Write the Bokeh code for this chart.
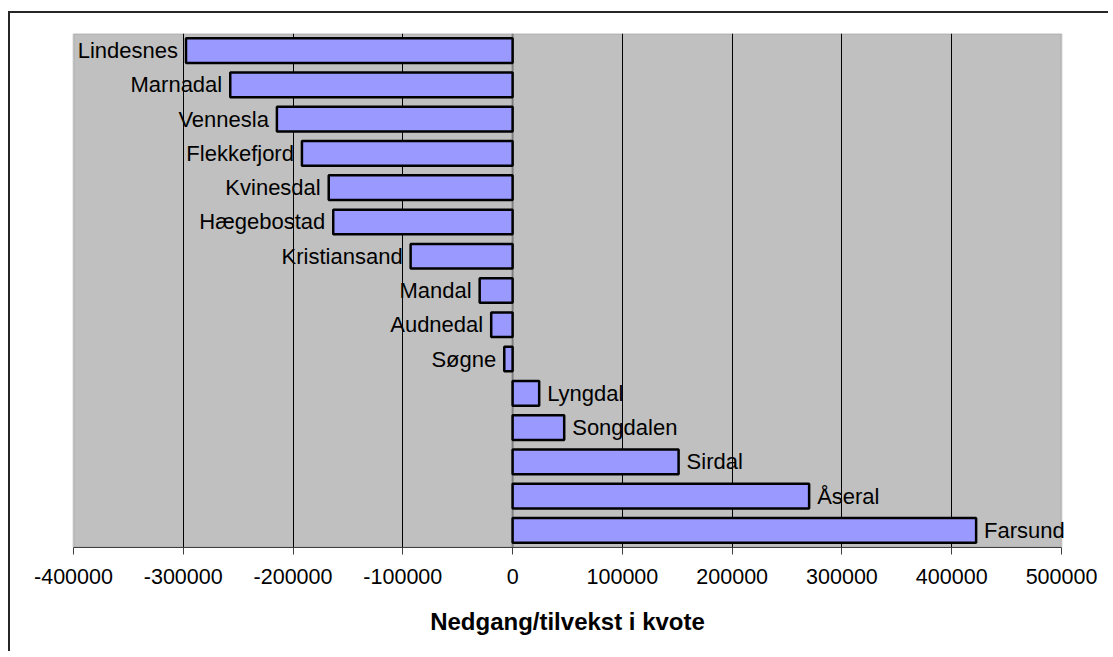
from bokeh.plotting import figure
from bokeh.models import (ColumnDataSource, FactorRange, Range1d, FixedTicker,
                          NumeralTickFormatter, Span, LabelSet, BoxAnnotation)
from bokeh.core.properties import value
from bokeh.embed import file_html
from bokeh.resources import INLINE

kommuner = ["Lindesnes", "Marnadal", "Vennesla", "Flekkefjord", "Kvinesdal",
            "Hægebostad", "Kristiansand", "Mandal", "Audnedal", "Søgne",
            "Lyngdal", "Songdalen", "Sirdal", "Åseral", "Farsund"]
endring = [-297500, -257200, -214700, -191900, -167500,
           -163400, -92900, -30000, -19500, -7600,
           24200, 47000, 151200, 270100, 422200]
x_ticks = [-400000, -300000, -200000, -100000, 0, 100000, 200000, 300000, 400000, 500000]
x_title = "Nedgang/tilvekst i kvote"

FONT = "Liberation Sans"

src = ColumnDataSource(dict(k=kommuner, v=endring))
src_neg = ColumnDataSource(dict(k=[k for k, v in zip(kommuner, endring) if v < 0],
                                v=[v for v in endring if v < 0]))
src_pos = ColumnDataSource(dict(k=[k for k, v in zip(kommuner, endring) if v >= 0],
                                v=[v for v in endring if v >= 0]))

# frame extends ~11px beyond the plot area on both sides so labels are not clipped
x_lo, x_hi = x_ticks[0], x_ticks[-1]
extra = 10000

p = figure(width=1100, height=640, output_backend="svg", toolbar_location=None,
           y_range=FactorRange(factors=kommuner[::-1], range_padding=0),
           x_range=Range1d(x_lo - extra, x_hi + extra),
           y_axis_location=None,
           min_border_left=52, min_border_right=38, min_border_top=20, min_border_bottom=106)

p.styles = {"border-top": "2px solid #262626", "border-left": "2px solid #262626",
            "margin-top": "11px", "margin-left": "8px"}

p.background_fill_color = "white"
p.border_fill_color = "white"
p.outline_line_color = None

p.add_layout(BoxAnnotation(left=x_lo, right=x_hi, fill_color="#C0C0C0", fill_alpha=1,
                           line_color="#808080", line_width=2, level="image"))

p.xgrid.ticker = FixedTicker(ticks=[t for t in x_ticks if t not in (0, x_lo, x_hi)])
p.xgrid.grid_line_color = "black"
p.xgrid.grid_line_width = 1
p.ygrid.visible = False

p.add_layout(Span(location=0, dimension="height", line_color="#808080",
                  line_width=2, level="underlay"))

p.hbar(y="k", left=0, right="v", height=0.72, source=src,
       fill_color="#9999FF", line_color="black", line_width=2.5)

for s, align, off in ((src_neg, "right", -8), (src_pos, "left", 8)):
    p.add_layout(LabelSet(x="v", y="k", text="k", source=s, text_align=align,
                          x_offset=off, text_baseline="middle", text_font=value(FONT),
                          text_font_size="22px", text_color="black"))

ax = p.xaxis[0]
ax.bounds = (x_lo, x_hi)
ax.ticker = FixedTicker(ticks=x_ticks)
ax.formatter = NumeralTickFormatter(format="0")
ax.axis_line_color = "#404040"
ax.axis_line_width = 1
ax.major_tick_line_color = "#404040"
ax.major_tick_out = 7
ax.major_tick_in = 0
ax.minor_tick_out = 0
ax.major_label_standoff = 14
ax.major_label_text_font = FONT
ax.major_label_text_font_size = "21.5px"
ax.major_label_text_color = "black"
ax.axis_label = x_title
ax.axis_label_text_font = FONT
ax.axis_label_text_font_style = "bold"
ax.axis_label_text_font_size = "24px"
ax.axis_label_standoff = 21
ax.axis_label_text_color = "black"

open("out.html", "w").write(file_html(p, INLINE))
